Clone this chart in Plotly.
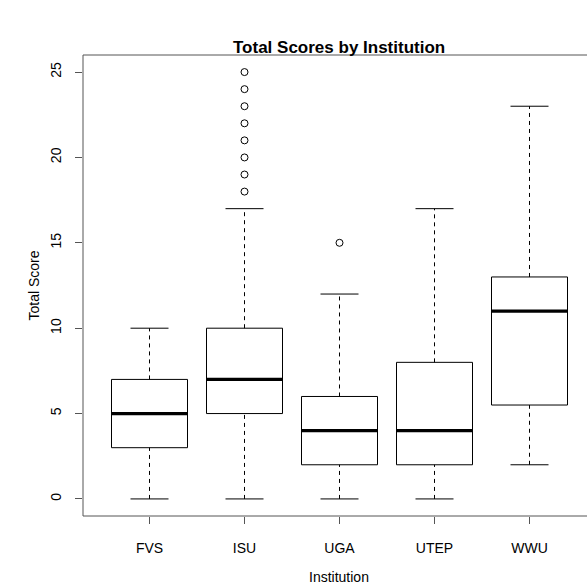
import plotly.graph_objects as go

institutions = ["FVS", "ISU", "UGA", "UTEP", "WWU"]
lower_whisker = [0, 0, 0, 0, 2]
q1 = [3, 5, 2, 2, 5.5]
median = [5, 7, 4, 4, 11]
q3 = [7, 10, 6, 8, 13]
upper_whisker = [10, 17, 12, 17, 23]
outliers = {
    "ISU": [18, 19, 20, 21, 22, 23, 24, 25],
    "UGA": [15],
}
y_ticks = [0, 5, 10, 15, 20, 25]

W, H = 587, 585
ML, MR, MT, MB = 83, 0, 55, 69
px_per_unit = 95.0
x0 = 0.3
x1 = x0 + (W - ML - MR) / px_per_unit

box_half = 0.4
cap_half = 0.2

fig = go.Figure()
line_col = "black"
frame_col = "#555555"

for i, name in enumerate(institutions):
    x = i + 1
    fig.add_trace(go.Scatter(
        x=[x - box_half, x + box_half, x + box_half, x - box_half, x - box_half],
        y=[q1[i], q1[i], q3[i], q3[i], q1[i]],
        mode="lines", line=dict(color=line_col, width=1), hoverinfo="skip"))
    fig.add_trace(go.Scatter(
        x=[x - box_half, x + box_half], y=[median[i], median[i]],
        mode="lines", line=dict(color=line_col, width=3.2), hoverinfo="skip"))
    fig.add_trace(go.Scatter(
        x=[x, x], y=[q3[i], upper_whisker[i]],
        mode="lines", line=dict(color=line_col, width=1, dash="4px,4px"), hoverinfo="skip"))
    fig.add_trace(go.Scatter(
        x=[x, x], y=[lower_whisker[i], q1[i]],
        mode="lines", line=dict(color=line_col, width=1, dash="4px,4px"), hoverinfo="skip"))
    for v in (upper_whisker[i], lower_whisker[i]):
        fig.add_trace(go.Scatter(
            x=[x - cap_half, x + cap_half], y=[v, v],
            mode="lines", line=dict(color=line_col, width=1), hoverinfo="skip"))
    if name in outliers:
        vals = outliers[name]
        fig.add_trace(go.Scatter(
            x=[x] * len(vals), y=vals, mode="markers",
            marker=dict(symbol="circle-open", size=7, color=line_col, line=dict(width=1)),
            hoverinfo="skip"))

font_family = "Liberation Sans, Arial, Helvetica, sans-serif"
plot_w = W - ML - MR

fig.update_layout(
    width=W, height=H,
    margin=dict(l=ML, r=MR, t=MT, b=MB, pad=0),
    paper_bgcolor="white", plot_bgcolor="white",
    showlegend=False,
    font=dict(family=font_family, size=14, color="black"),
    xaxis=dict(
        range=[x0, x1], tickmode="array", tickvals=[1, 2, 3, 4, 5],
        ticktext=institutions, ticks="outside", ticklen=7, tickcolor=frame_col,
        showline=False, showgrid=False, zeroline=False, ticklabelstandoff=12,
        tickfont=dict(size=14, family=font_family),
    ),
    yaxis=dict(
        range=[-1, 26], tickmode="array", tickvals=y_ticks,
        ticktext=[str(v) for v in y_ticks], tickangle=-90,
        ticks="outside", ticklen=7, tickcolor=frame_col,
        showline=False, showgrid=False, zeroline=False, ticklabelstandoff=8,
        tickfont=dict(size=14, family=font_family),
    ),
    shapes=[
        dict(type="line", xref="paper", yref="paper", x0=0, x1=1, y0=1, y1=1,
             line=dict(color=frame_col, width=1)),
        dict(type="line", xref="paper", yref="paper", x0=0, x1=1, y0=0, y1=0,
             line=dict(color=frame_col, width=1)),
        dict(type="line", xref="paper", yref="paper", x0=0, x1=0, y0=0, y1=1,
             line=dict(color=frame_col, width=1)),
    ],
    annotations=[
        dict(text="<b>Total Scores by Institution</b>", xref="paper", yref="paper",
             x=(339 - ML) / plot_w, y=(H - MB - 47) / (H - MT - MB),
             xanchor="center", yanchor="middle", showarrow=False,
             font=dict(size=17, family=font_family)),
        dict(text="Institution", xref="paper", yref="paper",
             x=(339 - ML) / plot_w, y=(H - MB - 577) / (H - MT - MB),
             xanchor="center", yanchor="middle", showarrow=False,
             font=dict(size=14, family=font_family)),
        dict(text="Total Score", xref="paper", yref="paper",
             x=(33 - ML) / plot_w, y=0.5, textangle=-90,
             xanchor="center", yanchor="middle", showarrow=False,
             font=dict(size=14, family=font_family)),
    ],
)

fig.write_html("out.html", config={"displayModeBar": False})
